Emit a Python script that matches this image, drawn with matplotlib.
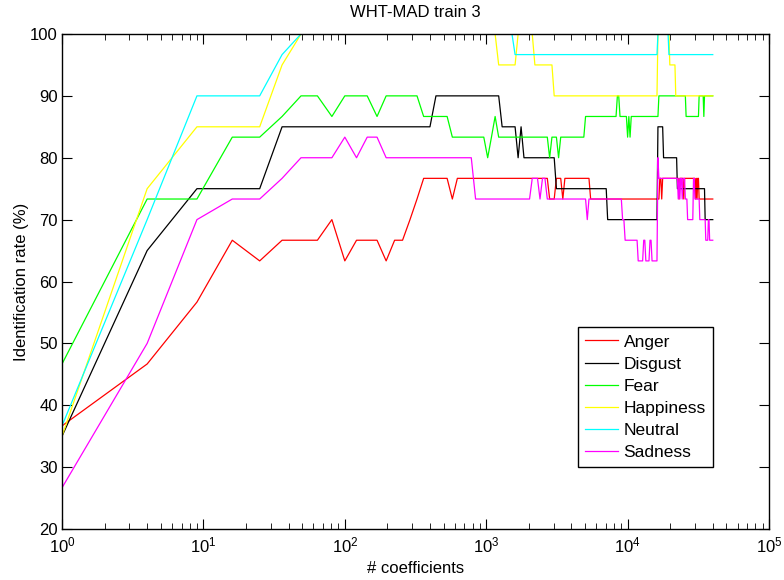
import numpy as np
import matplotlib
matplotlib.use('Agg')
import matplotlib.pyplot as plt

plt.rcParams['font.family'] = ['Liberation Sans', 'DejaVu Sans']

# block size n goes 1..200, number of coefficients kept is n^2
n_max = 200

# (first n of a run, identification rate in %) - rate holds until next entry
anger = [(1, 36.67), (2, 46.67), (3, 56.67), (4, 66.67), (5, 63.33), (6, 66.67),
         (9, 70), (10, 63.33), (11, 66.67), (14, 63.33), (15, 66.67), (17, 70),
         (18, 73.33), (19, 76.67), (24, 73.33), (25, 76.67), (53, 73.33),
         (56, 76.67), (59, 73.33), (60, 76.67), (74, 73.33), (130, 76.67),
         (132, 73.33), (133, 76.67), (152, 73.33), (153, 76.67), (158, 73.33),
         (159, 76.67), (174, 73.33), (175, 76.67), (176, 73.33), (177, 76.67),
         (179, 73.33)]
disgust = [(1, 35), (2, 65), (3, 75), (6, 85), (21, 90), (36, 85), (41, 80),
           (42, 85), (43, 80), (56, 75), (85, 70), (128, 85), (134, 80),
           (150, 75), (188, 70)]
fear = [(1, 46.67), (2, 73.33), (4, 83.33), (6, 86.67), (7, 90), (9, 86.67),
        (10, 90), (13, 86.67), (14, 90), (19, 86.67), (24, 83.33), (32, 80),
        (33, 83.33), (34, 86.67), (35, 83.33), (53, 80), (54, 83.33), (57, 80),
        (58, 83.33), (71, 86.67), (92, 90), (94, 86.67), (100, 83.33),
        (101, 86.67), (102, 83.33), (103, 86.67), (129, 90), (161, 86.67),
        (179, 90), (186, 86.67), (187, 90)]
happiness = [(1, 35), (2, 75), (3, 85), (6, 95), (7, 100), (35, 95), (41, 100),
             (47, 95), (55, 90), (128, 100), (141, 95), (148, 90)]
neutral = [(1, 36.67), (2, 70), (3, 90), (6, 96.67), (7, 100), (40, 96.67),
           (128, 100), (140, 96.67)]
sadness = [(1, 26.67), (2, 50), (3, 70), (4, 73.33), (6, 76.67), (7, 80),
           (10, 83.33), (11, 80), (12, 83.33), (14, 80), (29, 73.33),
           (46, 76.67), (49, 73.33), (50, 76.67), (52, 73.33), (72, 70),
           (73, 73.33), (96, 70), (98, 66.67), (109, 63.33), (114, 66.67),
           (116, 63.33), (120, 66.67), (122, 63.33), (128, 80), (129, 76.67),
           (151, 73.33), (152, 76.67), (153, 73.33), (154, 76.67), (156, 73.33),
           (157, 76.67), (160, 73.33), (163, 70), (171, 76.67), (173, 73.33),
           (180, 70), (189, 66.67), (193, 70), (195, 66.67)]

labels = ['Anger', 'Disgust', 'Fear', 'Happiness', 'Neutral', 'Sadness']
colors = ['#ff0000', '#000000', '#00ff00', '#ffff00', '#00ffff', '#ff00ff']


def expand(runs):
    vals = np.empty(n_max)
    for i, (start, v) in enumerate(runs):
        end = runs[i + 1][0] if i + 1 < len(runs) else n_max + 1
        vals[start - 1:end - 1] = v
    return vals


n = np.arange(1, n_max + 1)
coeffs = n ** 2

fig = plt.figure(figsize=(7.84, 5.80), dpi=100)
ax = fig.add_axes([0.0791, 0.0879, 0.9018, 0.8535])

for runs, lab, col in zip([anger, disgust, fear, happiness, neutral, sadness],
                          labels, colors):
    ax.plot(coeffs, expand(runs), color=col, lw=0.9, label=lab)

ax.set_xscale('log')
ax.set_xlim(1, 1e5)
ax.set_ylim(20, 100)
ax.set_yticks(np.arange(20, 101, 10))
ax.tick_params(which='both', direction='in', top=True, right=True, labelsize=12)
ax.tick_params(which='major', length=7, width=0.8)
ax.tick_params(which='minor', length=4, width=0.6)
ax.tick_params(axis='x', which='major', pad=5)
ax.tick_params(axis='y', which='major', pad=3)
for s in ax.spines.values():
    s.set_linewidth(1.0)

ax.set_title('WHT-MAD train 3', fontsize=12, pad=12)
ax.set_xlabel('# coefficients', fontsize=12, labelpad=4)
ax.set_ylabel('Identification rate (%)', fontsize=12, labelpad=1)

leg = ax.legend(loc='lower right', bbox_to_anchor=(0.921, 0.1246), fontsize=12.5,
                fancybox=False, framealpha=1, edgecolor='black',
                handlelength=1.9, handletextpad=0.3, labelspacing=0.4,
                borderpad=0.42, borderaxespad=0)
leg.get_frame().set_linewidth(1.0)

fig.savefig('out.png', dpi=100)
